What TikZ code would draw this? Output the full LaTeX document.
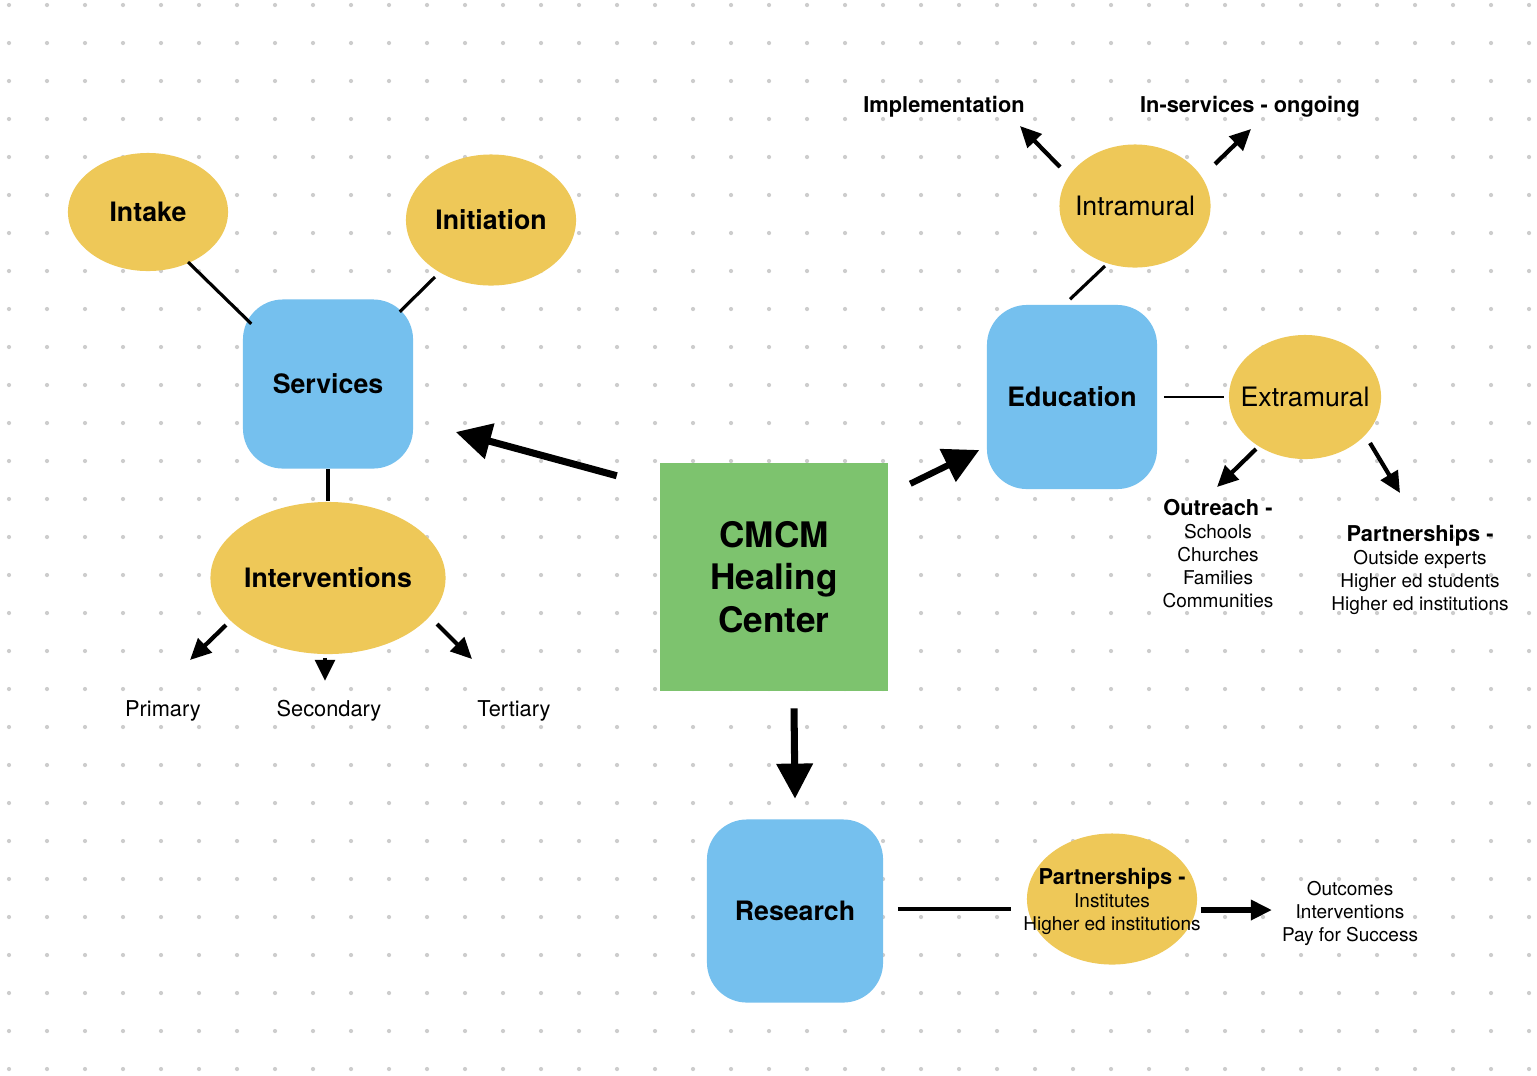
\documentclass[tikz,border=0pt]{standalone}
\usepackage{fontspec}
\setmainfont{TeX Gyre Heros}
\usetikzlibrary{shapes.geometric,arrows.meta,calc}

\definecolor{bubbleyellow}{RGB}{238,200,88}
\definecolor{tileblue}{RGB}{117,192,238}
\definecolor{hubgreen}{RGB}{125,195,110}
\definecolor{dotgray}{RGB}{205,205,205}

\newcommand{\labelsize}{\fontsize{7.6}{9}\selectfont}
\newcommand{\notesize}{\fontsize{5.4}{6.5}\selectfont}
\newcommand{\headsize}{\fontsize{6.2}{6.5}\selectfont\bfseries}

\begin{document}
\begin{tikzpicture}[x=0.01cm, y=-0.01cm,
    every node/.style={inner sep=0pt},
    bubble/.style={ellipse, fill=bubbleyellow, inner xsep=-4pt, font=\labelsize},
    tile/.style={fill=tileblue, rounded corners=0.4cm, font=\labelsize\bfseries},
    note/.style={align=center, font=\notesize},
    level/.style={font=\fontsize{6.2}{7}\selectfont},
    head/.style={font=\headsize},
    link/.style={line width=0.9pt},
    pointer/.style={line width=1.2pt, -{Triangle[length=6pt, width=5.5pt]}},
    bigpointer/.style={line width=2pt, -{Triangle[length=10pt, width=10pt]}}]

    % --- Canvas ---
    \useasboundingbox (0,0) rectangle (1537,1075);
    \fill[white] (0,0) rectangle (1537,1075);

    % Dot grid in the background
    \foreach \i in {0,...,40}
        \foreach \j in {0,...,28}
            \fill[dotgray] (9+38*\i, 5+38*\j) circle (0.6pt);

    % --- Hub ---
    \node[fill=hubgreen, minimum size=2.27cm, align=center,
          font=\fontsize{10}{12}\selectfont\bfseries] (cmcm) at (774,577) {CMCM\\Healing\\Center};

    % --- Services branch ---
    \node[tile, minimum width=1.7cm, minimum height=1.69cm] (services) at (328,384) {Services};
    \node[bubble, font=\labelsize\bfseries, minimum width=1.6cm, minimum height=1.18cm] (intake) at (148,212) {Intake};
    \node[bubble, font=\labelsize\bfseries, minimum width=1.7cm, minimum height=1.31cm] (initiation) at (491,220) {Initiation};
    \node[bubble, font=\labelsize\bfseries, minimum width=2.35cm, minimum height=1.52cm] (interventions) at (328,578) {Interventions};

    \node[level] (primary) at (163,711) {Primary};
    \node[level] (secondary) at (329,711) {Secondary};
    \node[level] (tertiary) at (514,711) {Tertiary};

    % Connectors round Services
    \draw[link] ($(intake)+(40,50)$) -- ($(services.north west)+(9,25)$);
    \draw[link] ($(initiation)+(-56,57)$) -- ($(services.north east)+(-14,13)$);
    \draw[link] (services.south) -- (interventions.north);

    % Levels of intervention
    \draw[pointer] ($(interventions)+(-102,47)$) -- ($(primary)+(27,-51)$);
    \draw[pointer] ($(interventions.south)+(-3,3)$) -- ($(secondary)+(-4,-30)$);
    \draw[pointer] ($(interventions)+(109,46)$) -- ($(tertiary)+(-42,-52)$);

    % --- Education branch ---
    \node[tile, minimum width=1.7cm, minimum height=1.84cm] (education) at (1072,397) {Education};
    \node[bubble, minimum width=1.51cm, minimum height=1.23cm] (intramural) at (1135,206) {Intramural};
    \node[bubble, minimum width=1.52cm, minimum height=1.24cm] (extramural) at (1305,397) {Extramural};

    \node[head] (implementation) at (944,107) {Implementation};
    \node[head] (inservices) at (1250,107) {In-services - ongoing};
    \node[note, anchor=north] (outreach) at (1218,499)
        {{\headsize Outreach -}\\Schools\\Churches\\Families\\Communities};
    \node[note, anchor=north] (eduparts) at (1420,525)
        {{\headsize Partnerships -}\\Outside experts\\Higher ed students\\Higher ed institutions};

    \draw[link] ($(education.north)+(-2,-5)$) -- ($(intramural)+(-30,60)$);
    \draw[line width=0.7pt] ($(education.east)+(6,0)$) -- ($(extramural.west)+(-4,0)$);

    \draw[pointer] ($(intramural)+(-75,-39)$) -- ($(implementation)+(76,19)$);
    \draw[pointer] ($(intramural)+(80,-42)$) -- ($(inservices)+(1,22)$);
    \draw[pointer] ($(extramural)+(-49,52)$) -- ($(outreach.north)+(-1,-12)$);
    \draw[pointer] ($(extramural)+(65,46)$) -- ($(eduparts.north)+(-20,-32)$);

    % --- Research branch ---
    \node[tile, minimum width=1.76cm, minimum height=1.83cm] (research) at (795,911) {Research};
    \node[ellipse, fill=bubbleyellow, minimum width=1.7cm, minimum height=1.31cm] (partners) at (1112,899) {};
    \node[note, anchor=north] (partnerstext) at (1112,868)
        {{\headsize Partnerships -}\\Institutes\\Higher ed institutions};
    \node[note, anchor=north] (outcomes) at (1350,881) {Outcomes\\Interventions\\Pay for Success};

    \draw[line width=1pt] ($(research.east)+(14,-2)$) -- ($(partners.west)+(-15,10)$);
    \draw[pointer, line width=1.5pt] ($(partners.east)+(3,11)$) -- ($(outcomes.north)+(-78,29)$);

    % --- Arrows out of the hub ---
    \draw[bigpointer] ($(cmcm.north west)+(-43,13)$) -- ($(services.east)+(42,48)$);
    \draw[bigpointer, line width=1.8pt] ($(cmcm.north east)+(22,21)$) -- ($(education.west)+(-7,53)$);
    \draw[bigpointer] ($(cmcm.south)+(20,17)$) -- ($(research.north)+(0,-20)$);

\end{tikzpicture}
\end{document}
